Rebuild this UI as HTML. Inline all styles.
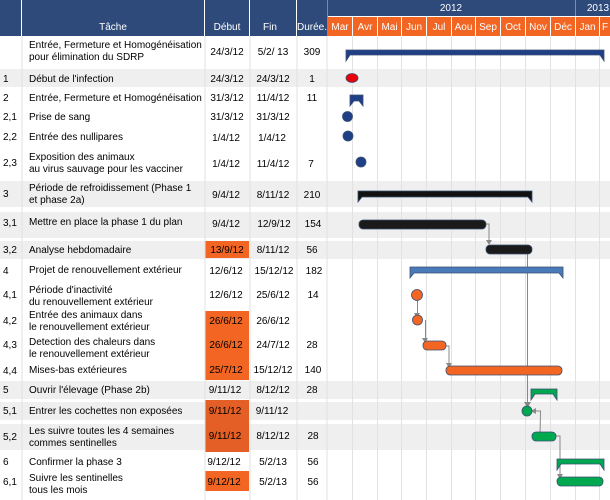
<!DOCTYPE html>
<html><head><meta charset="utf-8"><style>
html,body{margin:0;padding:0;background:#fff}
svg{display:block;font-family:"Liberation Sans",Arial,sans-serif}
</style></head><body>
<svg width="610" height="500" viewBox="0 0 610 500" xmlns="http://www.w3.org/2000/svg">
<g fill="#efefef">
<rect x="0" y="69" width="610" height="18"/>
<rect x="0" y="181" width="610" height="26"/>
<rect x="0" y="212" width="610" height="26"/>
<rect x="0" y="241" width="610" height="18"/>
<rect x="0" y="381" width="610" height="18"/>
<rect x="0" y="402" width="610" height="18"/>
<rect x="0" y="424" width="610" height="26"/>
</g>
<g fill="#f26522">
<rect x="205" y="241" width="44" height="17"/>
<rect x="205" y="311" width="44" height="69"/>
<rect x="205" y="471" width="44" height="20"/>
</g>
<rect x="205" y="400" width="44" height="52" fill="#e35f25"/>
<g stroke="#e2e2e2" stroke-width="1">
<line x1="22" y1="36" x2="22" y2="500"/>
<line x1="205" y1="36" x2="205" y2="500"/>
<line x1="250" y1="36" x2="250" y2="500"/>
<line x1="297" y1="36" x2="297" y2="500"/>
<line x1="327" y1="36" x2="327" y2="500"/>
<line x1="352.5" y1="36" x2="352.5" y2="500"/>
<line x1="377.5" y1="36" x2="377.5" y2="500"/>
<line x1="401.5" y1="36" x2="401.5" y2="500"/>
<line x1="426.5" y1="36" x2="426.5" y2="500"/>
<line x1="451.5" y1="36" x2="451.5" y2="500"/>
<line x1="475.5" y1="36" x2="475.5" y2="500"/>
<line x1="500.5" y1="36" x2="500.5" y2="500"/>
<line x1="525.5" y1="36" x2="525.5" y2="500"/>
<line x1="550.5" y1="36" x2="550.5" y2="500"/>
<line x1="575.5" y1="36" x2="575.5" y2="500"/>
<line x1="599.5" y1="36" x2="599.5" y2="500"/>
</g>
<rect x="0" y="0" width="610" height="36" fill="#2e4a7a"/>
<rect x="327" y="16" width="283" height="20" fill="#f26522"/>
<g stroke="#fff" stroke-width="1">
<line x1="21.5" y1="0" x2="21.5" y2="36"/>
<line x1="204.5" y1="0" x2="204.5" y2="36"/>
<line x1="249.5" y1="0" x2="249.5" y2="36"/>
<line x1="296.5" y1="0" x2="296.5" y2="36"/>
<line x1="327" y1="16.5" x2="610" y2="16.5"/>
<line x1="352.5" y1="17" x2="352.5" y2="36"/>
<line x1="377.5" y1="17" x2="377.5" y2="36"/>
<line x1="401.5" y1="17" x2="401.5" y2="36"/>
<line x1="426.5" y1="17" x2="426.5" y2="36"/>
<line x1="451.5" y1="17" x2="451.5" y2="36"/>
<line x1="475.5" y1="17" x2="475.5" y2="36"/>
<line x1="500.5" y1="17" x2="500.5" y2="36"/>
<line x1="525.5" y1="17" x2="525.5" y2="36"/>
<line x1="550.5" y1="17" x2="550.5" y2="36"/>
<line x1="575.5" y1="17" x2="575.5" y2="36"/>
<line x1="599.5" y1="17" x2="599.5" y2="36"/>
</g>
<line x1="575.5" y1="0" x2="575.5" y2="16" stroke="#6a8fd0"/>
<line x1="327.5" y1="0" x2="327.5" y2="36" stroke="#f26522"/>
<g fill="#fff" font-size="10" text-anchor="middle">
<text x="113" y="30">Tâche</text>
<text x="227" y="30">Début</text>
<text x="270" y="30">Fin</text>
<text x="312" y="30">Durée.</text>
<text x="451" y="11">2012</text>
<text x="598" y="11">2013</text>
<text x="340" y="30">Mar</text>
<text x="365" y="30">Avr</text>
<text x="389.5" y="30">Mai</text>
<text x="414" y="30">Jun</text>
<text x="439" y="30">Jul</text>
<text x="463.5" y="30">Aou</text>
<text x="488" y="30">Sep</text>
<text x="513" y="30">Oct</text>
<text x="538" y="30">Nov</text>
<text x="563" y="30">Déc</text>
<text x="587.5" y="30">Jan</text>
<text x="605" y="30">F</text>
</g>
<g fill="#000" font-size="10">
<text x="3" y="82">1</text>
<text x="3" y="101">2</text>
<text x="3" y="120">2,1</text>
<text x="3" y="140">2,2</text>
<text x="3" y="166">2,3</text>
<text x="3" y="197">3</text>
<text x="3" y="226">3,1</text>
<text x="3" y="253">3,2</text>
<text x="3" y="274">4</text>
<text x="3" y="298">4,1</text>
<text x="3" y="324">4,2</text>
<text x="3" y="348">4,3</text>
<text x="3" y="374">4,4</text>
<text x="3" y="393">5</text>
<text x="3" y="414">5,1</text>
<text x="3" y="440">5,2</text>
<text x="3" y="465">6</text>
<text x="3" y="485">6,1</text>
<text x="29" y="48">Entrée, Fermeture et Homogénéisation</text>
<text x="29" y="60">pour élimination du SDRP</text>
<text x="29" y="82">Début de l'infection</text>
<text x="29" y="101">Entrée, Fermeture et Homogénéisation</text>
<text x="29" y="120">Prise de sang</text>
<text x="29" y="140">Entrée des nullipares</text>
<text x="29" y="160">Exposition des animaux</text>
<text x="29" y="172">au virus sauvage pour les vacciner</text>
<text x="29" y="191">Période de refroidissement (Phase 1</text>
<text x="29" y="203">et phase  2a)</text>
<text x="29" y="225">Mettre en place la phase 1 du plan</text>
<text x="29" y="253">Analyse hebdomadaire</text>
<text x="29" y="273">Projet de renouvellement extérieur</text>
<text x="29" y="293">Période d'inactivité</text>
<text x="29" y="305">du renouvellement extérieur</text>
<text x="29" y="318">Entrée des animaux dans</text>
<text x="29" y="330">le renouvellement extérieur</text>
<text x="29" y="345">Detection des chaleurs dans</text>
<text x="29" y="357">le renouvellement extérieur</text>
<text x="29" y="373">Mises-bas extérieures</text>
<text x="29" y="393">Ouvrir l'élevage (Phase 2b)</text>
<text x="29" y="414">Entrer les cochettes non exposées</text>
<text x="29" y="434">Les suivre toutes les 4 semaines</text>
<text x="29" y="446">commes sentinelles</text>
<text x="29" y="465">Confirmer la phase 3</text>
<text x="29" y="481">Suivre les sentinelles</text>
<text x="29" y="493">tous les mois</text>
</g>
<g fill="#000" font-size="10" text-anchor="middle">
<text x="227" y="55">24/3/12</text><text x="273" y="55">5/2/ 13</text><text x="312" y="55">309</text>
<text x="227" y="82">24/3/12</text><text x="273" y="82">24/3/12</text><text x="312" y="82">1</text>
<text x="227" y="101">31/3/12</text><text x="273" y="101">11/4/12</text><text x="312" y="101">11</text>
<text x="227" y="120">31/3/12</text><text x="273" y="120">31/3/12</text>
<text x="226" y="141">1/4/12</text><text x="272" y="141">1/4/12</text>
<text x="226" y="167">1/4/12</text><text x="273" y="167">11/4/12</text><text x="311" y="167">7</text>
<text x="226" y="198">9/4/12</text><text x="273" y="198">8/11/12</text><text x="312" y="198">210</text>
<text x="226" y="227">9/4/12</text><text x="274" y="227">12/9/12</text><text x="313" y="227">154</text>
<text x="227" y="253">13/9/12</text><text x="273" y="253">8/11/12</text><text x="312" y="253">56</text>
<text x="226" y="274">12/6/12</text><text x="274" y="274">15/12/12</text><text x="314" y="274">182</text>
<text x="226" y="298">12/6/12</text><text x="273" y="298">25/6/12</text><text x="313" y="298">14</text>
<text x="226" y="324">26/6/12</text><text x="273" y="324">26/6/12</text>
<text x="226" y="348">26/6/12</text><text x="273" y="348">24/7/12</text><text x="312" y="348">28</text>
<text x="226" y="373">25/7/12</text><text x="273" y="373">15/12/12</text><text x="313" y="373">140</text>
<text x="225" y="393">9/11/12</text><text x="273" y="393">8/12/12</text><text x="312" y="393">28</text>
<text x="225" y="414">9/11/12</text><text x="272" y="414">9/11/12</text>
<text x="225" y="439">9/11/12</text><text x="273" y="439">8/12/12</text><text x="313" y="439">28</text>
<text x="224" y="465">9/12/12</text><text x="273" y="465">5/2/13</text><text x="313" y="465">56</text>
<text x="224" y="485">9/12/12</text><text x="273" y="485">5/2/13</text><text x="313" y="485">56</text>
</g>
<g stroke="#888" stroke-width="1" fill="none">
<polyline points="486,224 489,224 489,244"/>
<line x1="527.5" y1="250" x2="527.5" y2="405"/>
<line x1="417.5" y1="300" x2="417.5" y2="315"/>
<line x1="425.5" y1="320" x2="425.5" y2="341"/>
<polyline points="446,346 449,346 449,366"/>
<polyline points="540,436 540.5,411 533,411"/>
<polyline points="556,436 560,436 560,478"/>
</g>
<g fill="#888">
<polygon points="486,240 492,240 489,245"/>
<polygon points="414,313 420,313 417,318"/>
<polygon points="422,338 428,338 425,343"/>
<polygon points="446,363 452,363 449,368"/>
<polygon points="524,402 531,402 527.5,408"/>
<polygon points="536,408 536,414 531,411"/>
<polygon points="557,474 563,474 560,479"/>
</g>
<g stroke="#3a5070" stroke-width="0.8">
<path d="M346,50 H604 V61 L600,55 H350 L346,61 Z" fill="#1f3f86"/>
<ellipse cx="352" cy="78" rx="6" ry="4.5" fill="#e8000b"/>
<path d="M350,95 H363 V106 L359,101 H354 L350,106 Z" fill="#1f3f86"/>
<circle cx="347.5" cy="116.5" r="5" fill="#1f3f86"/>
<circle cx="348" cy="136" r="5" fill="#1f3f86"/>
<circle cx="361" cy="162" r="5" fill="#1f3f86"/>
<path d="M358,191 H532 V202 L528,197 H362 L358,202 Z" fill="#111"/>
<rect x="359" y="220" width="127" height="9" rx="4" fill="#1a1a1a"/>
<rect x="486" y="245" width="46" height="9" rx="4" fill="#1a1a1a"/>
<path d="M410,267 H563 V278 L559,273 H414 L410,278 Z" fill="#4a7ab8"/>
<circle cx="417" cy="295" r="5.5" fill="#f26522"/>
<circle cx="417.5" cy="320" r="5" fill="#f26522"/>
<rect x="423" y="341" width="23" height="9" rx="4" fill="#f26522"/>
<rect x="446" y="366" width="116" height="9" rx="4" fill="#f26522"/>
<path d="M531,389 H557 V400 L553,394 H535 L531,400 Z" fill="#00a850"/>
<circle cx="527" cy="411" r="5" fill="#00a850"/>
<rect x="532" y="432" width="24" height="9" rx="4" fill="#00a850"/>
<path d="M557,459 H604 V470 L600,464 H561 L557,470 Z" fill="#00a850"/>
<rect x="557" y="477" width="46" height="9" rx="4" fill="#00a850"/>
</g>
</svg>
</body></html>
